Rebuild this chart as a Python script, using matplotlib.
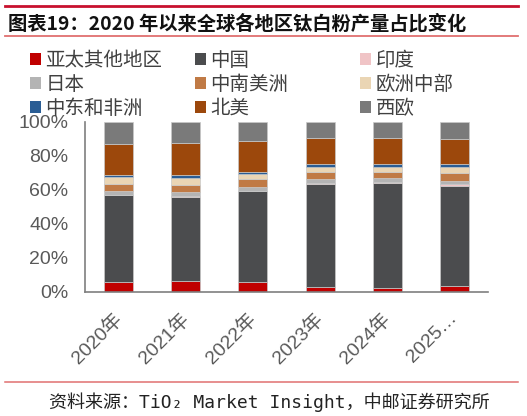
import numpy as np
import matplotlib.pyplot as plt
import matplotlib.transforms as mtransforms
from matplotlib.patches import Patch
from matplotlib.lines import Line2D

years = ['2020年', '2021年', '2022年', '2023年', '2024年', '2025…']

# stack order, bottom to top (share of global output, %)
regions = ['亚太其他地区', '中国', '印度', '日本', '中南美洲', '欧洲中部', '中东和非洲', '北美', '西欧']
apac_other = [5.5, 6.1, 5.5, 2.9, 2.4, 3.2]
china = [51.2, 49.8, 53.7, 60.5, 61.4, 59.2]
india = [0.2, 0.2, 0.2, 0.5, 0.9, 1.0]
japan = [2.2, 2.4, 2.2, 2.6, 2.0, 1.9]
latam = [4.3, 4.5, 4.5, 4.1, 3.7, 4.3]
central_eu = [4.1, 3.9, 2.9, 2.8, 3.0, 3.6]
mea = [1.0, 1.6, 1.6, 1.5, 1.5, 1.7]
north_am = [18.2, 18.8, 17.8, 15.7, 15.3, 15.1]
west_eu = [13.3, 12.7, 11.6, 9.4, 9.8, 10.0]
series = [apac_other, china, india, japan, latam, central_eu, mea, north_am, west_eu]
colors = ['#c00000', '#4b4c4e', '#f0c4c6', '#b4b4b4', '#c07a45',
          '#ead5b4', '#2a5d94', '#9c480c', '#7a7a7a']

cjk = ['Noto Sans CJK SC', 'DejaVu Sans']
latin = ['Liberation Sans', 'Noto Sans CJK SC']

fig = plt.figure(figsize=(5.27, 4.16), dpi=100)
ax = fig.add_axes([85/527, 1-291.7/416, 403/527, 170/416])

x = np.arange(len(years))
bottom = np.zeros(len(years))
for vals, c in zip(series, colors):
    ax.bar(x, vals, width=0.43, bottom=bottom, color=c,
           edgecolor='#c8c8c8', linewidth=0.5)
    bottom += np.array(vals)

ax.set_xlim(-0.5, 5.5)
ax.set_ylim(0, 100)
ax.set_yticks(np.arange(0, 101, 20))
ax.set_yticklabels([f'{v}%' for v in range(0, 101, 20)], family=latin,
                   fontsize=14, color='#595959')
ax.set_xticks(x)
ax.set_xticklabels(years, family=latin, fontsize=14, color='#595959',
                   rotation=45, ha='right', rotation_mode='anchor')
ax.tick_params(length=0)
ax.tick_params(axis='y', pad=12)
ax.tick_params(axis='x', pad=10)
shift = mtransforms.ScaledTranslation(-6/100, -4/100, fig.dpi_scale_trans)
for lab in ax.get_xticklabels():
    lab.set_transform(lab.get_transform() + shift)
for s in ['top', 'right']:
    ax.spines[s].set_visible(False)
for s in ['left', 'bottom']:
    ax.spines[s].set_color('#7f7f7f')
    ax.spines[s].set_linewidth(1.2)

# legend laid out row by row in three fixed columns
col_x = [30, 195, 360]
for ci in range(3):
    idx = [ci, ci + 3, ci + 6]
    handles = [Patch(facecolor=colors[i], edgecolor='none') for i in idx]
    labels = [regions[i] for i in idx]
    leg = fig.legend(handles, labels, loc='upper left',
                     bbox_to_anchor=(col_x[ci]/527, 1-50/416),
                     frameon=False, prop={'family': cjk, 'size': 14},
                     handlelength=0.55, handleheight=0.55, handletextpad=0.25,
                     labelspacing=0.15, borderpad=0, borderaxespad=0)
    for t in leg.get_texts():
        t.set_color('#404040')

# header / footer decoration
fig.add_artist(Line2D([5/527, 518/527], [1-6/416, 1-6/416], color='#c8102e', lw=2))
fig.add_artist(Line2D([5/527, 518/527], [1-36/416, 1-36/416], color='#e07070', lw=1.3))
fig.add_artist(Line2D([5/527, 518/527], [1-381.5/416, 1-381.5/416], color='#e07070', lw=1.1))
fig.text(8/527, 1-23.5/416, '图表19：2020 年以来全球各地区钛白粉产量占比变化',
         family=cjk, fontsize=13.9, fontweight='bold', color='#111111',
         ha='left', va='center')
fig.text(49/527, 1-402/416, '资料来源：TiO₂ Market Insight，中邮证券研究所',
         family=['DejaVu Sans Mono', 'Noto Sans CJK SC'], fontsize=13,
         color='#222222', ha='left', va='center')

fig.savefig('out.png', dpi=100)
